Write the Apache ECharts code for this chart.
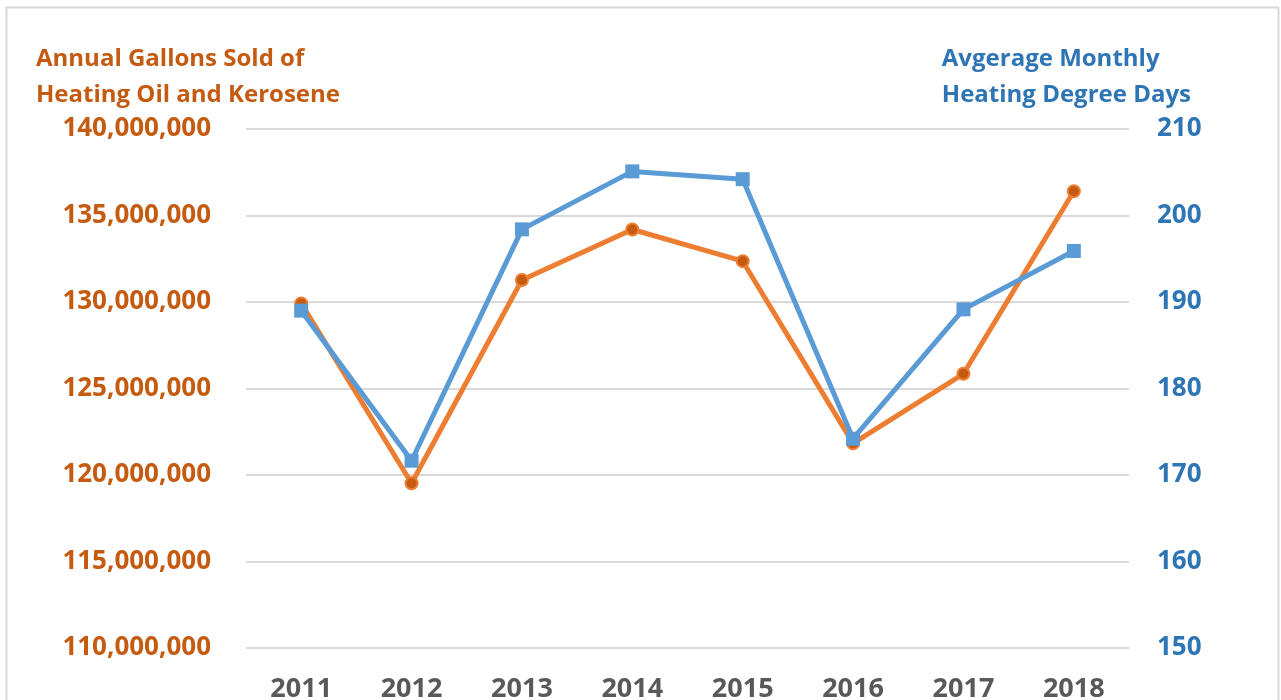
<!DOCTYPE html>
<html>
<head>
<meta charset="utf-8">
<script src="https://cdn.jsdelivr.net/npm/echarts@6/dist/echarts.min.js"></script>
<style>
html,body{margin:0;padding:0;background:#fff;}
#chart{width:1281px;height:700px;}
</style>
</head>
<body>
<div id="chart"></div>
<script>
const years = ['2011','2012','2013','2014','2015','2016','2017','2018'];
const gallons = [129920000, 119520000, 131270000, 134190000, 132360000, 121830000, 125850000, 136400000];
const degreeDays = [189.0, 171.65, 198.4, 205.1, 204.2, 174.2, 189.15, 195.9];
const leftTitle = ['Annual Gallons Sold of', 'Heating Oil and Kerosene'];
const rightTitle = ['Avgerage Monthly', 'Heating Degree Days'];

const FONT = '"Open Sans", Lato, sans-serif';
const ORANGE = '#ED7D31', ORANGE_DARK = '#C55A11', BLUE = '#5B9BD5', BLUE_DARK = '#2E75B6';

const chart = echarts.init(document.getElementById('chart'));
chart.setOption({
  animation: false,
  backgroundColor: '#fff',
  grid: {left: 246, right: 152, top: 129, height: 519, containLabel: false, outerBoundsMode: 'none'},
  graphic: [
    {type: 'rect', shape: {x: 6.5, y: 7.5, width: 1272, height: 720}, style: {fill: 'none', stroke: '#D9D9D9', lineWidth: 2}},
    {type: 'text', left: 36, top: 41, style: {text: leftTitle.join('\n'), fill: ORANGE_DARK, font: 'bold 24px ' + FONT, lineHeight: 36, align: 'left'}},
    {type: 'text', right: 90, top: 41, style: {text: rightTitle.join('\n'), fill: BLUE_DARK, font: 'bold 24px ' + FONT, lineHeight: 36, align: 'right'}}
  ],
  xAxis: {
    type: 'category', data: years, boundaryGap: true,
    axisLine: {show: false}, axisTick: {show: false},
    axisLabel: {color: '#595959', fontSize: 27, fontWeight: 'bold', fontFamily: FONT, margin: 28}
  },
  yAxis: [
    {type: 'value', min: 110000000, max: 140000000, interval: 5000000,
     axisLine: {show: false}, axisTick: {show: false},
     splitLine: {lineStyle: {color: '#D9D9D9', width: 2}},
     axisLabel: {color: ORANGE_DARK, fontSize: 26, fontWeight: 'bold', fontFamily: FONT, margin: 35,
       formatter: v => v.toLocaleString('en-US')}},
    {type: 'value', min: 150, max: 210, interval: 10, position: 'right',
     axisLine: {show: false}, axisTick: {show: false}, splitLine: {show: false},
     axisLabel: {color: BLUE_DARK, fontSize: 26, fontWeight: 'bold', fontFamily: FONT, margin: 28}}
  ],
  series: [
    {name: 'Gallons', type: 'line', yAxisIndex: 0, data: gallons,
     symbol: 'circle', symbolSize: 12,
     lineStyle: {color: ORANGE, width: 5},
     itemStyle: {color: ORANGE_DARK, borderColor: ORANGE, borderWidth: 2}},
    {name: 'Degree Days', type: 'line', yAxisIndex: 1, data: degreeDays,
     symbol: 'rect', symbolSize: 14,
     lineStyle: {color: BLUE, width: 5},
     itemStyle: {color: BLUE, borderColor: BLUE, borderWidth: 0}}
  ]
});
</script>
</body>
</html>
